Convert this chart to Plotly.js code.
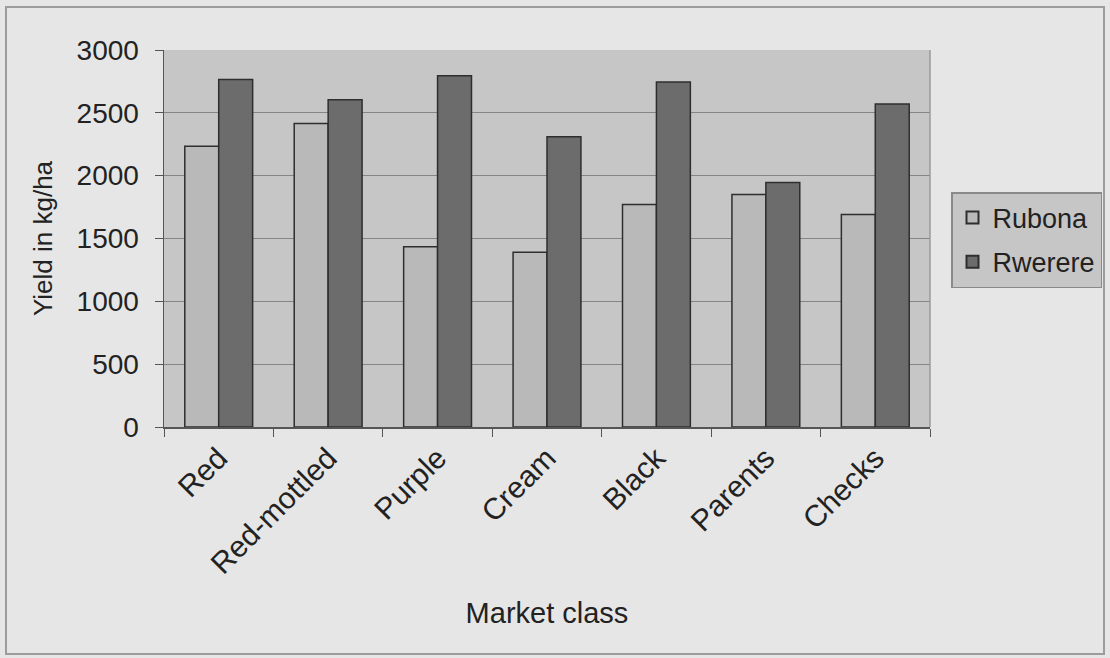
<!DOCTYPE html>
<html>
<head>
<meta charset="utf-8">
<script src="https://cdn.plot.ly/plotly-3.0.1.min.js"></script>
<style>
  html, body { margin: 0; padding: 0; background: #e6e6e6; }
  #chart { width: 1110px; height: 658px; }
</style>
</head>
<body>
<div id="chart"></div>
<script>
// Market classes of bean lines and mean yield at the two sites (kg/ha)
const marketClasses = ["Red", "Red-mottled", "Purple", "Cream", "Black", "Parents", "Checks"];
const rubonaYield  = [2235, 2415, 1435, 1390, 1770, 1850, 1690];
const rwerereYield = [2765, 2605, 2795, 2310, 2745, 1945, 2570];
const yTickValues  = [0, 500, 1000, 1500, 2000, 2500, 3000];

const FONT = "Liberation Sans, Arial, Helvetica, sans-serif";
const barLine = { color: "#2e2e2e", width: 1.5 };

const traces = [
  {
    type: "bar", name: "Rubona", legendgroup: "rubona",
    x: marketClasses, y: rubonaYield,
    marker: { color: "#b9b9b9", line: barLine }
  },
  {
    type: "bar", name: "Rwerere", legendgroup: "rwerere",
    x: marketClasses, y: rwerereYield,
    marker: { color: "#6c6c6c", line: barLine }
  }
];

// plot area in pixels: x 164..930, y 50..427
const L = 164, R = 930, T = 50, B = 427, W = 1110, H = 658;
const px = v => (v - L) / (R - L);
const py = v => (B - v) / (B - T);

const layout = {
  width: W, height: H,
  margin: { l: L, r: W - R, t: T, b: H - B },
  paper_bgcolor: "#e6e6e6",
  plot_bgcolor: "#c6c6c6",
  font: { family: FONT, size: 28, color: "#222" },
  barmode: "group",
  bargap: 0.38,
  bargroupgap: 0,
  showlegend: true,
  legend: {
    xref: "container", yref: "container",
    x: 951 / W, y: 1 - 192 / H, xanchor: "left", yanchor: "top",
    bgcolor: "#c6c6c6", bordercolor: "#8a8a8a", borderwidth: 1.5,
    font: { family: FONT, size: 27, color: "#222" },
    itemsizing: "constant", tracegroupgap: 6
  },
  xaxis: {
    type: "category",
    tickangle: -45,
    ticks: "outside", tickson: "boundaries", ticklen: 8, tickcolor: "#555",
    showline: true, linecolor: "#555", linewidth: 1.5,
    showgrid: false,
    tickfont: { family: FONT, size: 30, color: "#222" },
    title: { text: "Market class", font: { family: FONT, size: 29, color: "#222" }, standoff: 24 }
  },
  yaxis: {
    range: [0, 3000],
    tickvals: yTickValues,
    ticks: "outside", ticklen: 8, tickcolor: "#555",
    showline: true, linecolor: "#555", linewidth: 1.5,
    showgrid: true, gridcolor: "#858585", gridwidth: 1.2,
    zeroline: false,
    ticklabelstandoff: 10,
    tickfont: { family: FONT, size: 28, color: "#222" },
    title: { text: "Yield in kg/ha", font: { family: FONT, size: 26, color: "#222" }, standoff: 16 }
  },
  shapes: [
    // right edge of the plot area
    { type: "line", xref: "paper", yref: "paper", x0: 1, x1: 1, y0: 0, y1: 1,
      line: { color: "#9a9a9a", width: 1.5 } },
    // outer chart frame
    { type: "rect", xref: "paper", yref: "paper",
      x0: px(6), x1: px(1104), y0: py(654), y1: py(7),
      line: { color: "#9c9c9c", width: 2 }, layer: "below" }
  ]
};

Plotly.newPlot("chart", traces, layout, { displayModeBar: false, staticPlot: true });
</script>
</body>
</html>
